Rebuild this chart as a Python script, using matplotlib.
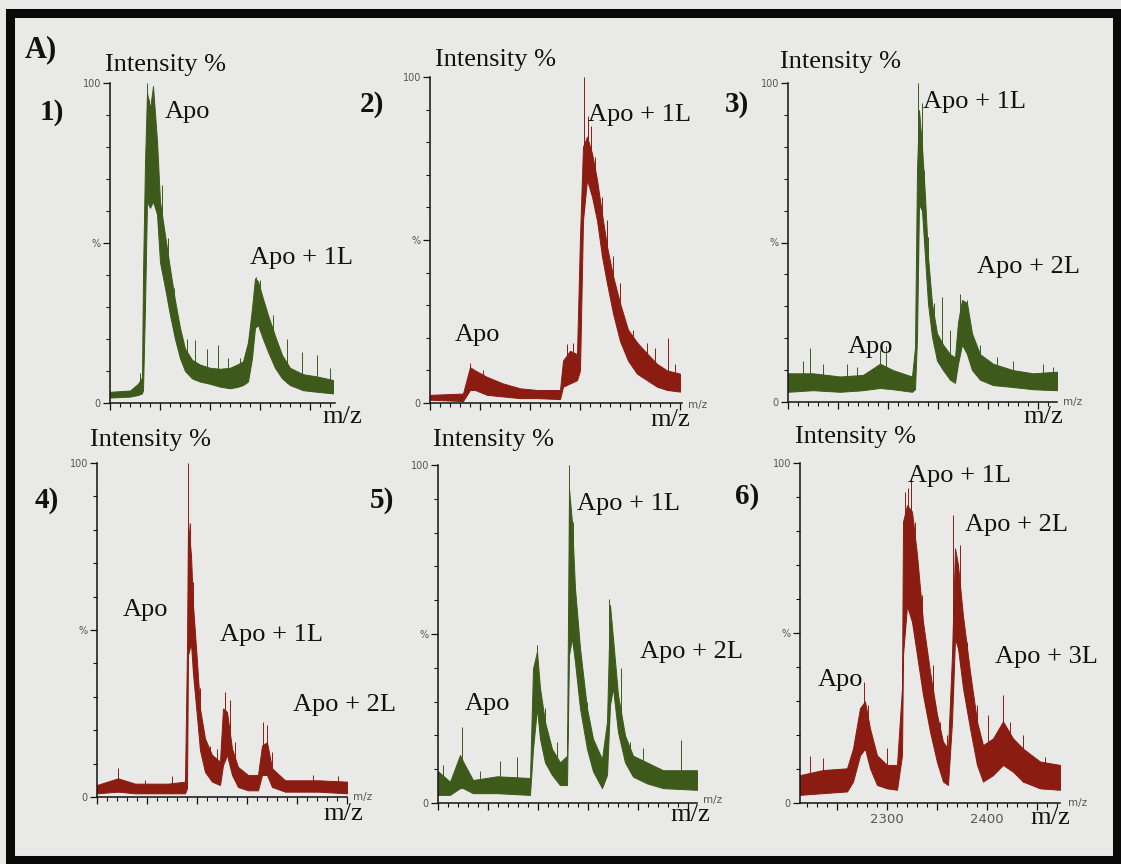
import numpy as np
import matplotlib
matplotlib.use("Agg")
import matplotlib.pyplot as plt
from matplotlib.patches import Rectangle
from matplotlib.ticker import MultipleLocator, FuncFormatter

W, H = 1121, 864
GREEN = "#3d5a1b"
RED = "#8a1c12"
BG = "#e9e9e7"
SERIF = "Liberation Serif"

# ---- Spectrum 1: m/z, upper / lower envelope of the noisy trace (%), isolated spikes
mz1 = [2200, 2220, 2228, 2232, 2233, 2235, 2237, 2240, 2243, 2247, 2250, 2255, 2260, 2265,
       2270, 2275, 2282, 2290, 2300, 2310, 2320, 2327, 2333, 2338, 2342, 2345, 2348, 2353,
       2358, 2365, 2372, 2380, 2393, 2407, 2423]
hi1 = [3.5, 3.9, 6, 8, 40, 75, 97, 92, 99, 82, 63, 52.5, 42, 32, 23.5, 17, 13.5, 12, 11, 10.7,
       11, 12, 13, 19, 29.6, 39, 38, 32.6, 27.5, 21, 15, 11, 9, 8.3, 7.2]
lo1 = [1.7, 2.0, 2.5, 3, 4, 30, 63, 61, 63, 59, 44, 36, 27.5, 20, 14, 10, 7.7, 6.7, 6, 5.1,
       4.6, 5, 5.6, 6.7, 14, 23.5, 24.4, 20, 16, 11, 7.7, 5.6, 4, 3.5, 3]
spk_mz1 = [2230, 2237, 2239, 2243, 2247, 2252, 2258, 2264, 2270, 2277, 2285, 2297, 2308,
           2318, 2330, 2346, 2350, 2363, 2377, 2392, 2407, 2420]
spk_in1 = [9.4, 100, 95, 99, 78.5, 68, 51.5, 36, 21, 20, 19.7, 17, 18,
           14, 14, 39.5, 38.5, 27.5, 20, 16, 15, 10.8]

# ---- Spectrum 2
mz2 = [2200, 2233, 2240, 2245, 2257, 2273, 2290, 2307, 2330, 2333, 2340, 2347, 2350, 2353,
       2357, 2362, 2367, 2372, 2377, 2383, 2390, 2398, 2407, 2417, 2427, 2437, 2450]
hi2 = [2.5, 2.9, 11, 10, 8, 6, 4.5, 4, 4, 13, 16, 15, 51, 78.6, 81.7, 76.6, 68.5, 58, 48, 39,
       30.6, 22.5, 18.6, 15.2, 12, 10, 9]
lo2 = [1.0, 0.6, 4, 4, 2.5, 2, 1.5, 1.5, 1.2, 5, 6, 7, 10, 56, 68.5, 63.3, 56, 45, 36.7, 27.5,
       19, 13, 9, 7, 5, 4, 3.5]
spk_mz2 = [2240, 2253, 2337, 2343, 2354, 2358, 2361, 2365, 2372, 2377, 2383, 2390, 2403,
           2417, 2425, 2438, 2445]
spk_in2 = [12.2, 10.2, 18, 18.3, 100, 88, 85, 75.6, 63.3, 56, 45, 36.7, 22.5,
           18.3, 17, 20, 12]

# ---- Spectrum 3
mz3 = [2200, 2225, 2252, 2275, 2292, 2305, 2324, 2327, 2329, 2331, 2334, 2337, 2340, 2344,
       2349, 2355, 2362, 2367, 2370, 2374, 2379, 2384, 2392, 2405, 2425, 2445, 2469]
hi3 = [9, 9, 8, 8.5, 12, 10, 8, 17, 72.7, 91.5, 80, 64.4, 45.5, 30.9, 21.5, 18, 15, 14, 25, 32,
       31, 21.5, 15, 12, 10, 9, 9.5]
lo3 = [3.2, 3.7, 3.2, 3.7, 4.4, 4, 3.2, 4, 20, 62, 60, 45.5, 30.9, 20.5, 13, 10, 7, 6, 12, 18,
       15, 10, 7, 5.3, 4.7, 4, 3.7]
spk_mz3 = [2215, 2222, 2235, 2259, 2269, 2292, 2298, 2330, 2334, 2336, 2340, 2346, 2354,
           2362, 2372, 2379, 2392, 2409, 2425, 2455, 2465]
spk_in3 = [13, 16.8, 12, 12, 11, 16.3, 17.4, 100, 93.6, 72.7, 51.8, 31, 33,
           22.5, 34, 32, 18, 14, 13, 12, 11]

# ---- Spectrum 4
mz4 = [2200, 2221, 2238, 2271, 2288, 2290, 2291, 2294, 2296, 2300, 2303, 2308, 2315, 2323,
       2326, 2330, 2335, 2341, 2351, 2361, 2365, 2370, 2375, 2388, 2421, 2450]
hi4 = [3.6, 5.6, 4, 4, 4.6, 44.5, 82.4, 72.4, 57.5, 40.5, 26.5, 17.5, 12.6, 10.6, 26.5, 25.5,
       14.5, 9, 6.6, 6.6, 15.4, 16.4, 8.6, 5, 5, 4.6]
lo4 = [1.1, 1.6, 1.1, 1.1, 1.1, 2.6, 42.5, 46, 37, 24, 14, 7.5, 4.6, 3.6, 9.5, 12.6, 6.6, 3,
       2, 2, 6.6, 6.6, 3, 1.6, 1.6, 1.1]
spk_mz4 = [2221, 2248, 2275, 2291, 2293, 2296, 2303, 2313, 2320, 2328, 2333, 2338, 2366,
           2370, 2375, 2416, 2441]
spk_in4 = [8.6, 5.2, 6.2, 100, 82, 64.5, 32.5, 15.4, 14.5, 31.5, 29, 16.4, 22.5,
           21.5, 13.6, 6.6, 6.2]

# ---- Spectrum 5
mz5 = [2200, 2212, 2222, 2225, 2235, 2259, 2292, 2295, 2299, 2302, 2307, 2314, 2322, 2329,
       2331, 2334, 2337, 2342, 2349, 2355, 2364, 2369, 2372, 2375, 2380, 2387, 2395, 2409,
       2425, 2459]
hi5 = [9.4, 6.3, 14.2, 12.3, 6.8, 7.9, 7.4, 39.8, 44.8, 34, 24, 16, 12, 14, 93, 83, 63.5, 45.8,
       28, 19, 13, 24, 58.6, 48.7, 32, 20, 14, 12, 9.7, 9.7]
lo5 = [2.4, 2.4, 4.4, 4.4, 2.9, 2.9, 2.4, 16, 28, 19, 12, 8.3, 5.3, 5.3, 43.8, 48.7, 41.7, 28,
       16, 9.4, 4.4, 8.3, 29, 34, 21, 12, 7.8, 5.8, 4.4, 3.9]
spk_mz5 = [2205, 2224, 2242, 2262, 2279, 2299, 2307, 2319, 2331, 2335, 2340, 2349, 2359,
           2371, 2375, 2383, 2392, 2405, 2443]
spk_in5 = [11.3, 22.6, 9.4, 12.3, 13.7, 46.8, 28, 18, 100, 83.2, 51.6, 30, 16.3,
           60.5, 48.7, 40, 18, 16.3, 18.7]

# ---- Spectrum 6
mz6 = [2213, 2236, 2260, 2266, 2273, 2278, 2283, 2290, 2300, 2310, 2315, 2316, 2320, 2325,
       2330, 2336, 2343, 2350, 2356, 2361, 2365, 2368, 2371, 2376, 2383, 2390, 2396, 2406,
       2416, 2426, 2436, 2453, 2473]
hi6 = [8.2, 9.7, 10.2, 16, 27.9, 29.9, 21.9, 14, 11.2, 11.2, 33.8, 82.7, 87.6, 85.7, 73, 53.3,
       38.6, 26, 18, 16, 43.5, 74.9, 70, 55, 38.6, 24, 17, 19, 24, 19, 16, 12.2, 11.2]
lo6 = [2.4, 2.9, 3.4, 6.3, 14, 16, 10.2, 5.3, 4.3, 3.9, 14, 43.5, 58, 53.3, 43.5, 31.8, 21, 12,
       6.3, 5.3, 23.9, 48.4, 45.5, 33.8, 22, 11.2, 6.3, 8.2, 11.2, 9.2, 6.3, 4.3, 3.9]
spk_mz6 = [2223, 2236, 2263, 2277, 2281, 2300, 2318, 2321, 2324, 2328, 2335, 2340, 2346,
           2353, 2360, 2366, 2373, 2380, 2390, 2401, 2416, 2423, 2436, 2458, 2470]
spk_in6 = [13.7, 13.2, 11.2, 35.7, 28.8, 16.1, 91.6, 92.5, 95.5, 82.7, 61.2, 44.5, 40.6,
           23.9, 20, 84.7, 76, 47.4, 28.8, 26, 31.8, 23.9, 20, 13.5, 11.2]

y_ticks = [0, 50, 100]
y_tick_labels = ["0", "%", "100"]
x_tick_labels6 = ["2300", "2400"]

# Peak labels per panel: (text, x px, y px)
peak_labels = {
    1: [("Apo", 165, 112), ("Apo + 1L", 250, 258)],
    2: [("Apo", 455, 335), ("Apo + 1L", 588, 115)],
    3: [("Apo + 1L", 923, 102), ("Apo + 2L", 977, 267), ("Apo", 848, 347)],
    4: [("Apo", 123, 610), ("Apo + 1L", 220, 635), ("Apo + 2L", 293, 705)],
    5: [("Apo + 1L", 577, 504), ("Apo + 2L", 640, 652), ("Apo", 465, 704)],
    6: [("Apo + 1L", 908, 476), ("Apo + 2L", 965, 525), ("Apo + 3L", 995, 657),
        ("Apo", 818, 680)],
}

panels = [
    # id, data, colour, axes box (left, right, zero, top in px), x-limits,
    # "Intensity %" pos, number pos, big m/z pos, small m/z pos
    dict(n=1, d=(mz1, hi1, lo1, spk_mz1, spk_in1), c=GREEN, box=(110, 335, 403, 83),
         xl=(2200, 2425), it=(105, 65), num=(40, 113), mzb=(322, 417), mzs=None),
    dict(n=2, d=(mz2, hi2, lo2, spk_mz2, spk_in2), c=RED, box=(430, 682, 403, 77),
         xl=(2200, 2452), it=(435, 60), num=(360, 105), mzb=(650, 420), mzs=(688, 405)),
    dict(n=3, d=(mz3, hi3, lo3, spk_mz3, spk_in3), c=GREEN, box=(788, 1057, 402, 83),
         xl=(2200, 2469), it=(780, 62), num=(725, 105), mzb=(1023, 417), mzs=(1063, 402)),
    dict(n=4, d=(mz4, hi4, lo4, spk_mz4, spk_in4), c=RED, box=(97, 347, 797, 463),
         xl=(2200, 2450), it=(90, 440), num=(35, 500), mzb=(323, 814), mzs=(353, 797)),
    dict(n=5, d=(mz5, hi5, lo5, spk_mz5, spk_in5), c=GREEN, box=(438, 697, 803, 465),
         xl=(2200, 2459), it=(433, 440), num=(370, 500), mzb=(670, 815), mzs=(703, 800)),
    dict(n=6, d=(mz6, hi6, lo6, spk_mz6, spk_in6), c=RED, box=(800, 1060, 803, 463),
         xl=(2213, 2473), it=(795, 437), num=(735, 497), mzb=(1030, 818), mzs=(1068, 803)),
]


def fpos(x, y):
    return x / W, 1 - y / H


def label6(v, _):
    s = str(int(round(v)))
    return s if s in x_tick_labels6 else ""


fig = plt.figure(figsize=(W / 100, H / 100), dpi=100, facecolor=BG)

# heavy black frame around the whole figure
fig.patches.append(Rectangle((10 / W, 1 - 860 / H), 1107 / W, 847.5 / H,
                             transform=fig.transFigure, fill=False,
                             edgecolor="#0a0a0a", linewidth=6.5, zorder=10))

fig.text(*fpos(25, 50), "A)", family=SERIF, fontsize=22, fontweight="bold",
         ha="left", va="center", color="#111")

for p in panels:
    L, R, Z, T = p["box"]
    ax = fig.add_axes([L / W, 1 - Z / H, (R - L) / W, (Z - T) / H])
    ax.patch.set_alpha(0)
    mz, hi, lo, smz, sin = p["d"]
    c = p["c"]
    ax.fill_between(mz, lo, hi, color=c, lw=0.7, edgecolor=c)
    ax.vlines(smz, np.interp(smz, mz, lo), sin, color=c, lw=0.7)
    ax.set_xlim(*p["xl"])
    ax.set_ylim(0, 100)
    for s in ("top", "right"):
        ax.spines[s].set_visible(False)
    for s in ("left", "bottom"):
        ax.spines[s].set_linewidth(1.1)
        ax.spines[s].set_color("#111")
    ax.set_yticks(y_ticks)
    ax.set_yticklabels(y_tick_labels)
    ax.yaxis.set_minor_locator(MultipleLocator(10))
    ax.xaxis.set_major_locator(MultipleLocator(50))
    ax.xaxis.set_minor_locator(MultipleLocator(10))
    if p["n"] == 6:
        ax.xaxis.set_major_formatter(FuncFormatter(label6))
    else:
        ax.xaxis.set_major_formatter(FuncFormatter(lambda v, _: ""))
    ax.tick_params(which="major", length=5, width=0.9, direction="out", color="#111")
    ax.tick_params(which="minor", length=3, width=0.8, direction="out", color="#111")
    ax.tick_params(axis="y", labelsize=7, labelcolor="#555", pad=1.5)
    ax.tick_params(axis="x", labelsize=9.5, labelcolor="#555", pad=2)

    fig.text(*fpos(*p["it"]), "Intensity %", family=SERIF, fontsize=19,
             ha="left", va="center", color="#111")
    fig.text(*fpos(*p["num"]), f"{p['n']})", family=SERIF, fontsize=21, fontweight="bold",
             ha="left", va="center", color="#111")
    fig.text(*fpos(*p["mzb"]), "m/z", family=SERIF, fontsize=19,
             ha="left", va="center", color="#111")
    if p["mzs"] is not None:
        fig.text(*fpos(*p["mzs"]), "m/z", fontsize=7.5, ha="left", va="center", color="#555")
    for txt, x, y in peak_labels[p["n"]]:
        fig.text(*fpos(x, y), txt, family=SERIF, fontsize=19,
                 ha="left", va="center", color="#111")

fig.savefig("out.png", dpi=100, facecolor=BG)
